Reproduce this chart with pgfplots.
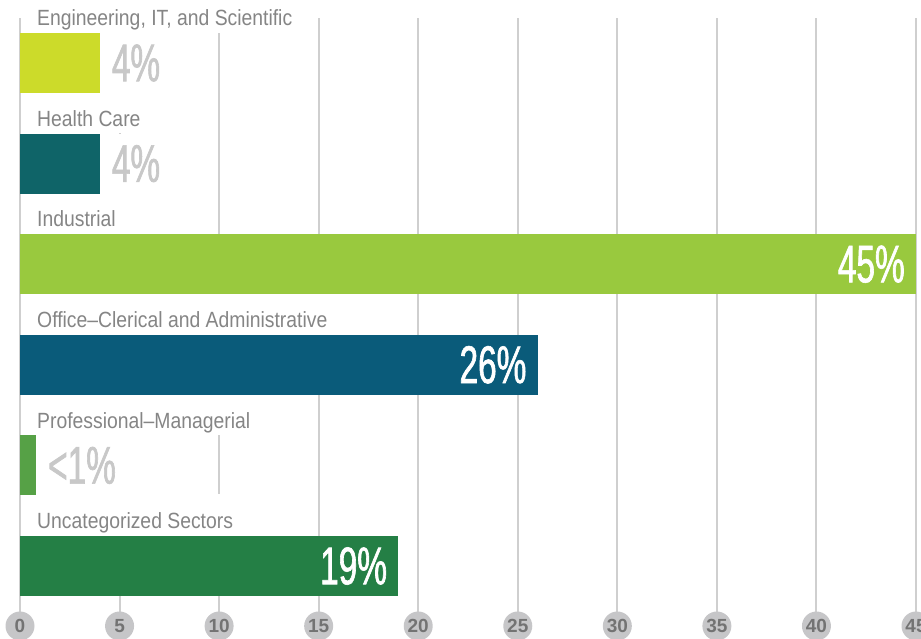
\documentclass[border=0pt]{standalone}
\usepackage{fontspec}
\setmainfont{Liberation Sans}
\newfontfamily\labfont[FakeStretch=0.88]{Liberation Sans}
\newfontfamily\valfont[FakeStretch=0.63, FakeBold=1.2]{Liberation Sans}
\usepackage{pgfplots}
\pgfplotsset{compat=1.18}
\definecolor{cEng}{HTML}{CCDB2A}
\definecolor{cHealth}{HTML}{0F6468}
\definecolor{cInd}{HTML}{99C93E}
\definecolor{cOff}{HTML}{0A5B7A}
\definecolor{cProf}{HTML}{56A146}
\definecolor{cUnc}{HTML}{247F45}
\definecolor{gridc}{HTML}{CFCFCF}
\definecolor{circc}{HTML}{C6C6C8}
\definecolor{tickc}{HTML}{737373}
\definecolor{labc}{HTML}{858585}
\definecolor{valgray}{HTML}{C8C8C8}
\pgfplotsset{
  outlab/.style={xbar, bar shift=0pt, bar width=60pt, draw=none,
    point meta=explicit symbolic, nodes near coords,
    nodes near coords style={anchor=west, font=\valfont\fontsize{53}{53}\selectfont, text=valgray,
      fill=white, inner xsep=12pt, inner ysep=0pt, minimum height=60pt}},
  inlab/.style={xbar, bar shift=0pt, bar width=60pt, draw=none,
    point meta=explicit symbolic, nodes near coords={\llap{\pgfplotspointmeta}},
    nodes near coords style={anchor=west, font=\valfont\fontsize{53}{53}\selectfont, text=white,
      inner sep=0pt, xshift=-12pt}},
}
\begin{document}
\begin{tikzpicture}
\begin{axis}[
  x=19.911pt, y=1pt,
  xmin=0, xmax=45, ymin=12, ymax=620,
  axis line style={draw=none},
  tick style={draw=none},
  major tick length=0pt,
  xmajorgrids, grid style={line width=2pt, color=gridc},
  xtick={0,5,...,45},
  /pgf/number format/assume math mode=true,
  xticklabel style={circle, fill=circc, text=tickc,
    font=\fontsize{19}{19}\selectfont\bfseries,
    minimum size=29pt, inner sep=0pt, anchor=center},
  ytick={102,202.6,303.2,403.8,504.4,605},
  yticklabels={Uncategorized Sectors, Professional–Managerial, Office–Clerical and Administrative, Industrial, Health Care, {Engineering, IT, and Scientific}},
  yticklabel style={anchor=south west, fill=white, inner xsep=15pt, inner ysep=0pt,
    text height=34.6pt, text depth=7pt, xshift=2pt,
    font=\labfont\fontsize{22}{22}\selectfont, text=labc},
  clip=false,
]
\addplot[outlab, fill=cEng] coordinates {(4,575) [4\%]};
\addplot[outlab, fill=cHealth] coordinates {(4,474.4) [4\%]};
\addplot[inlab, fill=cInd] coordinates {(45,373.8) [45\%]};
\addplot[inlab, fill=cOff] coordinates {(26,273.2) [26\%]};
\addplot[outlab, fill=cProf] coordinates {(0.8,172.6) [<1\%]};
\addplot[inlab, fill=cUnc] coordinates {(19,72) [19\%]};
\coordinate (BL) at (axis cs:-1.0045,0);
\coordinate (TR) at (axis cs:45.2512,638);
\end{axis}
\pgfresetboundingbox
\useasboundingbox (BL) rectangle (TR);
\end{tikzpicture}
\end{document}
